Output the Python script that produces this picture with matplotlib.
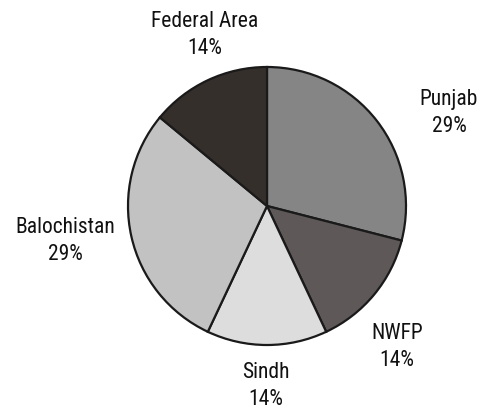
import matplotlib
matplotlib.use('Agg')
import matplotlib.pyplot as plt

plt.rcParams['font.family'] = ['Roboto Condensed', 'DejaVu Sans']

regions = ['Punjab', 'NWFP', 'Sindh', 'Balochistan', 'Federal Area']
shares = [29, 14, 14, 29, 14]
colours = ['#858585', '#5e5958', '#dddddd', '#c2c2c2', '#352f2c']

# label centres in pixel coords (y down)
label_pos = [(449, 113), (397, 347), (266, 386), (65, 241), (205, 35)]

fig = plt.figure(figsize=(4.86, 4.10), dpi=100)
ax = fig.add_axes([0, 0, 1, 1])

ax.pie(shares, colors=colours, startangle=-90, counterclock=True,
       center=(267, 207), radius=139,
       wedgeprops=dict(edgecolor='#1a1a1a', linewidth=1.6))

for name, val, (x, y) in zip(regions, shares, label_pos):
    ax.text(x, y, f'{name}\n{val}%', ha='center', va='center',
            fontsize=15.5, linespacing=1.32, color='#111111')

ax.set_xlim(0, 486)
ax.set_ylim(410, 0)
ax.set_aspect('equal')
ax.axis('off')

fig.savefig('out.png', dpi=100)
